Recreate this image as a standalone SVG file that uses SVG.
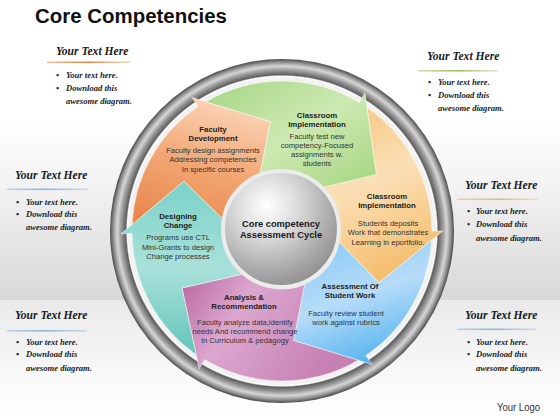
<svg xmlns="http://www.w3.org/2000/svg" width="560" height="420" viewBox="0 0 560 420">
  <defs>
    <linearGradient id="bgMid" x1="0" y1="0" x2="0" y2="1">
      <stop offset="0" stop-color="#ffffff"/>
      <stop offset="0.35" stop-color="#f3f3f3"/>
      <stop offset="1" stop-color="#d8d8d8"/>
    </linearGradient>
    <linearGradient id="bgLow" x1="0" y1="0" x2="0" y2="1">
      <stop offset="0" stop-color="#e9e9e9"/>
      <stop offset="0.6" stop-color="#f8f8f8"/>
      <stop offset="1" stop-color="#ffffff"/>
    </linearGradient>
    <radialGradient id="ring" gradientUnits="userSpaceOnUse" cx="282" cy="231" r="172">
      <stop offset="0" stop-color="#f2f2f2"/>
      <stop offset="0.892" stop-color="#f2f2f2"/>
      <stop offset="0.9" stop-color="#ffffff"/>
      <stop offset="0.908" stop-color="#5e5e5e"/>
      <stop offset="0.935" stop-color="#9a9a9a"/>
      <stop offset="0.958" stop-color="#d6d6d6"/>
      <stop offset="0.978" stop-color="#9c9c9c"/>
      <stop offset="1" stop-color="#4a4a4a"/>
    </radialGradient>
    <radialGradient id="sphere" cx="0.38" cy="0.3" r="0.75">
      <stop offset="0" stop-color="#ffffff"/>
      <stop offset="0.35" stop-color="#dcdcdc"/>
      <stop offset="0.75" stop-color="#a9a9a9"/>
      <stop offset="1" stop-color="#8c8c8c"/>
    </radialGradient>
    <linearGradient id="gOrange" x1="0.5" y1="0" x2="0.2" y2="1">
      <stop offset="0" stop-color="#fbd2b4"/>
      <stop offset="0.5" stop-color="#f2a672"/>
      <stop offset="1" stop-color="#e8874c"/>
    </linearGradient>
    <linearGradient id="gGreen" x1="0" y1="0" x2="1" y2="1">
      <stop offset="0" stop-color="#a6d684"/>
      <stop offset="0.5" stop-color="#cde9b2"/>
      <stop offset="1" stop-color="#a3d57e"/>
    </linearGradient>
    <linearGradient id="gYellow" x1="0" y1="0" x2="0.3" y2="1">
      <stop offset="0" stop-color="#f6c47c"/>
      <stop offset="0.5" stop-color="#fbe0b6"/>
      <stop offset="1" stop-color="#f5bf72"/>
    </linearGradient>
    <linearGradient id="gBlue" x1="0.3" y1="0" x2="0.7" y2="1">
      <stop offset="0" stop-color="#8fcbf5"/>
      <stop offset="0.45" stop-color="#b6dcf8"/>
      <stop offset="1" stop-color="#4aaeef"/>
    </linearGradient>
    <linearGradient id="gPink" x1="0" y1="0" x2="1" y2="0.4">
      <stop offset="0" stop-color="#b8649c"/>
      <stop offset="0.4" stop-color="#dca7cf"/>
      <stop offset="1" stop-color="#c680b2"/>
    </linearGradient>
    <linearGradient id="gTeal" x1="0.5" y1="0" x2="0.5" y2="1">
      <stop offset="0" stop-color="#7ad1c7"/>
      <stop offset="0.5" stop-color="#a9e1da"/>
      <stop offset="1" stop-color="#63c4b9"/>
    </linearGradient>
    <linearGradient id="lnOrange" x1="0" y1="0" x2="1" y2="0">
      <stop offset="0" stop-color="#d9884f" stop-opacity="0.5"/>
      <stop offset="0.5" stop-color="#d9884f"/>
      <stop offset="1" stop-color="#e8b890" stop-opacity="0.6"/>
    </linearGradient>
    <linearGradient id="lnGreen" x1="0" y1="0" x2="1" y2="0">
      <stop offset="0" stop-color="#9cc068" stop-opacity="0.5"/>
      <stop offset="0.5" stop-color="#9cc068"/>
      <stop offset="1" stop-color="#c4dca4" stop-opacity="0.6"/>
    </linearGradient>
    <linearGradient id="lnBlue" x1="0" y1="0" x2="1" y2="0">
      <stop offset="0" stop-color="#8fb3dc" stop-opacity="0.5"/>
      <stop offset="0.5" stop-color="#8fb3dc"/>
      <stop offset="1" stop-color="#b8cde6" stop-opacity="0.6"/>
    </linearGradient>
    <linearGradient id="lnTan" x1="0" y1="0" x2="1" y2="0">
      <stop offset="0" stop-color="#d6be7a" stop-opacity="0.5"/>
      <stop offset="0.5" stop-color="#d6be7a"/>
      <stop offset="1" stop-color="#e6d6a8" stop-opacity="0.6"/>
    </linearGradient>
  </defs>
  <style>
    .title{font-family:"Liberation Sans",Arial,sans-serif;font-weight:bold;font-size:20px;fill:#111}
    .yt{font-family:"Liberation Serif","Times New Roman",serif;font-style:italic;font-weight:bold;font-size:11.6px;fill:#1a1a1a}
    .bl{font-family:"Liberation Serif","Times New Roman",serif;font-style:italic;font-weight:bold;font-size:8.6px;fill:#222}
    .nt{font-family:"Liberation Sans",Arial,sans-serif;font-weight:bold;font-size:7.8px;fill:#222;text-anchor:middle}
    .nb{font-family:"Liberation Sans",Arial,sans-serif;font-size:7.6px;fill:#333;text-anchor:middle}
    .ct{font-family:"Liberation Sans",Arial,sans-serif;font-weight:bold;font-size:9.3px;fill:#1a1a1a;text-anchor:middle}
    .logo{font-family:"Liberation Sans",Arial,sans-serif;font-size:10.5px;fill:#333}
    .arw{stroke:#ffffff;stroke-opacity:0.6;stroke-width:0.8;stroke-linejoin:round}
  </style>

  <!-- background -->
  <rect x="0" y="0" width="560" height="420" fill="#ffffff"/>
  <rect x="0" y="120" width="560" height="180" fill="url(#bgMid)"/>
  <rect x="0" y="300" width="560" height="120" fill="url(#bgLow)"/>

  <!-- title -->
  <text class="title" x="35" y="23" textLength="192" lengthAdjust="spacingAndGlyphs">Core Competencies</text>

  <!-- side text blocks -->
  <g id="text-top-left">
    <text class="yt" x="56" y="55">Your Text Here</text>
    <rect x="47" y="61.5" width="83" height="1.6" fill="url(#lnOrange)"/>
    <text class="bl" x="56" y="78">•</text><text class="bl" x="66" y="78">Your text here.</text>
    <text class="bl" x="56" y="91">•</text><text class="bl" x="66" y="91">Download this</text>
    <text class="bl" x="66" y="104">awesome diagram.</text>
  </g>
  <g id="text-top-right">
    <text class="yt" x="427" y="60">Your Text Here</text>
    <rect x="418" y="70" width="80" height="1.6" fill="url(#lnGreen)"/>
    <text class="bl" x="428" y="85">•</text><text class="bl" x="438" y="85">Your text here.</text>
    <text class="bl" x="428" y="98">•</text><text class="bl" x="438" y="98">Download this</text>
    <text class="bl" x="438" y="111">awesome diagram.</text>
  </g>
  <g id="text-mid-left">
    <text class="yt" x="15" y="179">Your Text Here</text>
    <rect x="7" y="188.5" width="81" height="1.6" fill="url(#lnBlue)"/>
    <text class="bl" x="16" y="205">•</text><text class="bl" x="26" y="205">Your text here.</text>
    <text class="bl" x="16" y="217">•</text><text class="bl" x="26" y="217">Download this</text>
    <text class="bl" x="26" y="230">awesome diagram.</text>
  </g>
  <g id="text-mid-right">
    <text class="yt" x="465" y="189">Your Text Here</text>
    <rect x="457" y="198.5" width="81" height="1.6" fill="url(#lnTan)"/>
    <text class="bl" x="467" y="214">•</text><text class="bl" x="476" y="214">Your text here.</text>
    <text class="bl" x="467" y="227">•</text><text class="bl" x="476" y="227">Download this</text>
    <text class="bl" x="476" y="241">awesome diagram.</text>
  </g>
  <g id="text-bottom-left">
    <text class="yt" x="15" y="319">Your Text Here</text>
    <rect x="7" y="330" width="80" height="1.6" fill="url(#lnBlue)"/>
    <text class="bl" x="16" y="345">•</text><text class="bl" x="26" y="345">Your text here.</text>
    <text class="bl" x="16" y="357">•</text><text class="bl" x="26" y="357">Download this</text>
    <text class="bl" x="26" y="371">awesome diagram.</text>
  </g>
  <g id="text-bottom-right">
    <text class="yt" x="465" y="319">Your Text Here</text>
    <rect x="457" y="328.5" width="79" height="1.6" fill="url(#lnBlue)"/>
    <text class="bl" x="467" y="345">•</text><text class="bl" x="476" y="345">Your text here.</text>
    <text class="bl" x="467" y="357">•</text><text class="bl" x="476" y="357">Download this</text>
    <text class="bl" x="476" y="371">awesome diagram.</text>
  </g>
  <text class="logo" x="497" y="411" textLength="43" lengthAdjust="spacingAndGlyphs">Your Logo</text>

  <!-- ring -->
  <g id="ring">
    <circle cx="282" cy="231" r="172" fill="url(#ring)"/>
  </g>

  <!-- cycle arrows (nodes) -->
  <g id="node-classroom-implementation-2">
    <path class="arw" fill="url(#gYellow)" d="M366.9 107.3 A150 150 0 0 1 432 231 L443 231 L379.1 282.6 L328 231 L340 231 A58 58 0 0 0 320.8 187.9 L376.3 174.4 Z"/>
    <text class="nt" x="387" y="199">Classroom</text>
    <text class="nt" x="387" y="208">Implementation</text>
    <text class="nb" x="388" y="226">Students deposits</text>
    <text class="nb" x="388" y="235">Work that demonstrates</text>
    <text class="nb" x="388" y="245">Learning  in eportfolio.</text>
  </g>
  <g id="node-assessment">
    <path class="arw" fill="url(#gBlue)" d="M431.7 240.1 A150 150 0 0 1 365.9 355.4 L372 364.5 L293.5 340.4 L307.7 269.1 L314.4 279.1 A58 58 0 0 0 338.9 242 L379.1 282.6 Z"/>
    <text class="nt" x="350" y="289" fill="#1d2b4c">Assessment Of</text>
    <text class="nt" x="350" y="298" fill="#1d2b4c">Student Work</text>
    <text class="nb" x="346" y="316" fill="#2b3a66">Faculty review  student</text>
    <text class="nb" x="346" y="325" fill="#2b3a66">work against rubrics</text>
  </g>
  <g id="node-analysis">
    <path class="arw" fill="url(#gPink)" d="M358.2 360.2 A150 150 0 0 1 204.7 359.6 L199.1 369 L182 288 L258.3 270.4 L252.1 280.7 A58 58 0 0 0 304.7 284.4 L293.5 340.4 Z"/>
    <text class="nt" x="244" y="300" fill="#2a1a28">Analysis &amp;</text>
    <text class="nt" x="244" y="309" fill="#2a1a28">Recommendation</text>
    <text class="nb" x="245" y="325" fill="#4a2a45">Faculty analyze data,identify</text>
    <text class="nb" x="245" y="334" fill="#4a2a45">needs And recommend change</text>
    <text class="nb" x="245" y="343" fill="#4a2a45">in Curriculum  &amp; pedagogy</text>
  </g>
  <g id="node-designing-change">
    <path class="arw" fill="url(#gTeal)" d="M196.1 354.7 A150 150 0 0 1 132 233.6 L121 233.8 L184 181.1 L236 231.8 L224 232 A58 58 0 0 0 243.2 273.9 L182 288 Z"/>
    <text class="nt" x="178" y="219">Designing</text>
    <text class="nt" x="178" y="228">Change</text>
    <text class="nb" x="178" y="240">Programs use CTL</text>
    <text class="nb" x="178" y="250">Mini-Grants to design</text>
    <text class="nb" x="178" y="259">Change processes</text>
  </g>
  <g id="node-faculty-development">
    <path class="arw" fill="url(#gOrange)" d="M132.1 224.5 A150 150 0 0 1 198.1 106.6 L192 97.5 L270.5 121.6 L256.3 192.9 L249.6 182.9 A58 58 0 0 0 224.9 221 L184 181.1 Z"/>
    <text class="nt" x="213" y="132">Faculty</text>
    <text class="nt" x="213" y="141">Development</text>
    <text class="nb" x="213" y="153">Faculty design assignments</text>
    <text class="nb" x="213" y="162">Addressing competencies</text>
    <text class="nb" x="213" y="172">In specific  courses</text>
  </g>
  <g id="node-classroom-implementation-1">
    <path class="arw" fill="url(#gGreen)" d="M205.8 101.8 A150 150 0 0 1 359.3 102.4 L364.9 93 L376.3 174.4 L305.7 191.6 L311.9 181.3 A58 58 0 0 0 259.3 177.6 L270.5 121.6 Z"/>
    <text class="nt" x="317" y="118">Classroom</text>
    <text class="nt" x="317" y="127">Implementation</text>
    <text class="nb" x="317" y="139">Faculty test new</text>
    <text class="nb" x="317" y="148">competency-Focused</text>
    <text class="nb" x="317" y="157">assignments w.</text>
    <text class="nb" x="317" y="166">students</text>
  </g>

  <!-- centre -->
  <g id="node-centre">
    <circle cx="281" cy="229" r="58" fill="url(#sphere)" stroke="#ececec" stroke-width="4"/>
    <text class="ct" x="281" y="227">Core competency</text>
    <text class="ct" x="281" y="238">Assessment Cycle</text>
  </g>
</svg>
